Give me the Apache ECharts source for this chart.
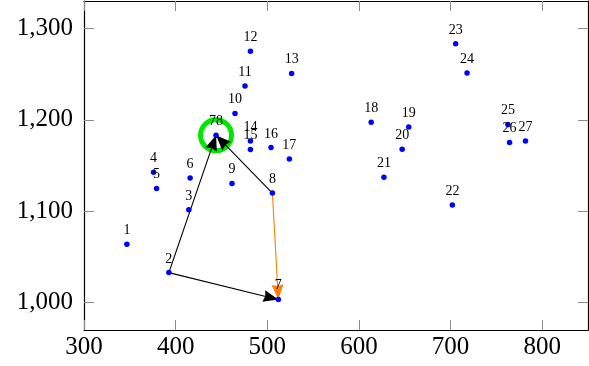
<!DOCTYPE html>
<html>
<head>
<meta charset="utf-8">
<script src="https://cdn.jsdelivr.net/npm/echarts@6/dist/echarts.min.js"></script>
<style>
  html, body { margin: 0; padding: 0; background: #fff; }
  #chart { width: 589px; height: 366px; }
</style>
</head>
<body>
<div id="chart"></div>
<script>
const names = ['1', '2', '3', '4', '5', '6', '7', '8', '9', '10', '11', '12', '13', '14',
  '15', '16', '17', '18', '19', '20', '21', '22', '23', '24', '25', '26', '27', '78']
const xs = [346.8, 392.6, 414.4, 375.9, 379.2, 415.8, 512.1, 505.6, 461.5, 464.8, 475.7, 481.6, 526.6, 481.6,
  481.6, 504.1, 524.1, 613.4, 654.4, 647.2, 627.3, 702.0, 705.6, 718.0, 762.6, 764.4, 781.8, 444.1]
const ys = [1063.8, 1032.8, 1101.5, 1142.7, 1124.9, 1136.3, 1003.3, 1119.8, 1130.3, 1207.0, 1236.9, 1275.1, 1250.8, 1176.9,
  1167.5, 1169.6, 1157.2, 1197.3, 1192.1, 1167.8, 1137.2, 1106.7, 1283.2, 1251.1, 1194.8, 1175.1, 1176.9, 1183.1]
const xTicks = [300, 400, 500, 600, 700, 800]
const yTicks = [1000, 1100, 1200, 1300]
const edgeFrom = ['2', '2', '8', '8']
const edgeTo = ['7', '78', '78', '7']
const edgeColors = ['#000000', '#000000', '#000000', '#ff8000']
const circled = ['78']

const idx = n => names.indexOf(n)
const points = names.map((n, i) => [xs[i], ys[i], n])
const edgeData = edgeFrom.map((a, i) => {
  const b = edgeTo[i]
  return [xs[idx(a)], ys[idx(a)], xs[idx(b)], ys[idx(b)], i]
})
const circleData = circled.map(n => [xs[idx(n)], ys[idx(n)]])

const serif = 'Liberation Serif'
const tickGray = '#8c8c8c'

const xAxisBase = (pos, labels) => ({
  type: 'value',
  min: 300,
  max: 850,
  position: pos,
  axisLine: { onZero: false, lineStyle: { color: '#000', width: 1.2 } },
  axisTick: { inside: true, length: 10, customValues: xTicks, lineStyle: { color: tickGray } },
  axisLabel: {
    show: labels,
    customValues: xTicks,
    fontFamily: serif,
    fontSize: 25,
    color: '#000',
    margin: 5
  },
  splitLine: { show: false }
})

const yAxisBase = (pos, labels) => ({
  type: 'value',
  min: 970,
  max: 1330,
  position: pos,
  axisLine: { onZero: false, lineStyle: { color: '#000', width: 1.2 } },
  axisTick: { inside: true, length: 10, customValues: yTicks, lineStyle: { color: tickGray } },
  axisLabel: {
    show: labels,
    customValues: yTicks,
    fontFamily: serif,
    fontSize: 25,
    color: '#000',
    margin: 11,
    formatter: v => v.toLocaleString('en-US')
  },
  splitLine: { show: false }
})

const chart = echarts.init(document.getElementById('chart'))
chart.setOption({
  animation: false,
  grid: { left: 84, right: 1, top: 1, bottom: 36, outerBoundsMode: 'none' },
  xAxis: [xAxisBase('bottom', true), xAxisBase('top', false)],
  yAxis: [yAxisBase('left', true), yAxisBase('right', false)],
  series: [
    {
      type: 'custom',
      z: 1,
      data: circleData,
      encode: { x: 0, y: 1 },
      renderItem(params, api) {
        const p = api.coord([api.value(0), api.value(1)])
        return {
          type: 'circle',
          shape: { cx: p[0], cy: p[1], r: 15.5 },
          style: { fill: 'none', stroke: '#00e600', lineWidth: 5 }
        }
      }
    },
    {
      type: 'custom',
      z: 2,
      data: edgeData,
      encode: { x: [0, 2], y: [1, 3] },
      renderItem(params, api) {
        const p1 = api.coord([api.value(0), api.value(1)])
        const p2 = api.coord([api.value(2), api.value(3)])
        const color = edgeColors[api.value(4)]
        const dx = p2[0] - p1[0]
        const dy = p2[1] - p1[1]
        const len = Math.hypot(dx, dy)
        const ux = dx / len
        const uy = dy / len
        const L = 15
        const W = 6
        const bx = p2[0] - ux * L
        const by = p2[1] - uy * L
        return {
          type: 'group',
          children: [
            {
              type: 'line',
              shape: { x1: p1[0], y1: p1[1], x2: bx + ux * 3, y2: by + uy * 3 },
              style: { stroke: color, lineWidth: 1.1 }
            },
            {
              type: 'polygon',
              shape: { points: [p2, [bx - uy * W, by + ux * W], [bx + ux * 1.5, by + uy * 1.5], [bx + uy * W, by - ux * W]] },
              style: { fill: color }
            }
          ]
        }
      }
    },
    {
      type: 'scatter',
      z: 3,
      data: points,
      symbolSize: 5.5,
      itemStyle: { color: '#0000ff', opacity: 1 },
      label: {
        show: true,
        position: 'top',
        distance: 4,
        formatter: p => p.data[2],
        fontFamily: serif,
        fontSize: 14,
        color: '#000'
      }
    }
  ]
})
</script>
</body>
</html>
